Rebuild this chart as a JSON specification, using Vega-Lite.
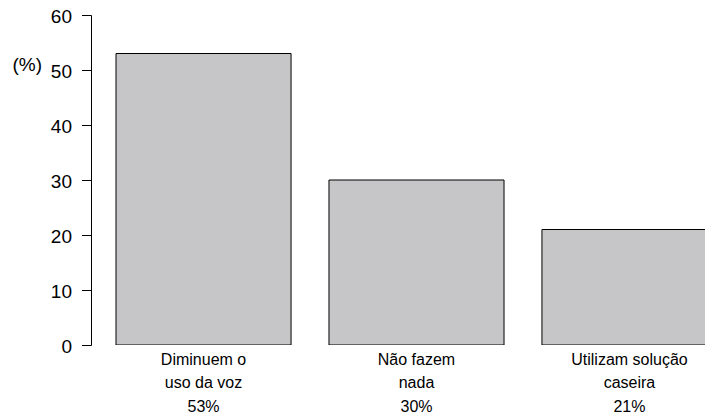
{
  "$schema": "https://vega.github.io/schema/vega-lite/v6.json",
  "autosize": "none",
  "width": 614,
  "height": 330,
  "padding": {"left": 91, "top": 15, "right": 0, "bottom": 68},
  "background": "white",
  "config": {
    "view": {"stroke": null},
    "font": "Liberation Sans",
    "axis": {"grid": false, "labelColor": "#000000", "titleColor": "#000000"}
  },
  "data": {
    "values": [
      {"categoria": "Diminuem o|uso da voz|53%", "pct": 53},
      {"categoria": "Não fazem|nada|30%", "pct": 30},
      {"categoria": "Utilizam solução|caseira|21%", "pct": 21}
    ]
  },
  "mark": {"type": "bar", "fill": "#c6c6c8", "stroke": "#000000", "strokeWidth": 1, "clip": true},
  "encoding": {
    "x": {
      "field": "categoria",
      "type": "nominal",
      "sort": null,
      "scale": {"type": "band", "range": [25, 626], "paddingInner": 0.178, "paddingOuter": 0},
      "axis": {
        "title": null,
        "domain": false,
        "ticks": false,
        "labelAngle": 0,
        "labelExpr": "split(datum.label, '|')",
        "labelFontSize": 16,
        "labelLineHeight": 23.5,
        "labelBaseline": "top",
        "labelPadding": 6,
        "labelFont": "Liberation Sans",
        "labelLimit": 0
      }
    },
    "y": {
      "field": "pct",
      "type": "quantitative",
      "scale": {"domain": [0, 60], "nice": false},
      "axis": {
        "values": [0, 10, 20, 30, 40, 50, 60],
        "title": "(%)",
        "titleAngle": 0,
        "titleAlign": "left",
        "titleBaseline": "middle",
        "titleX": -79,
        "titleY": 49,
        "titleFontSize": 19,
        "titleFontWeight": "normal",
        "titleFont": "Liberation Sans",
        "labelFontSize": 19,
        "labelFont": "Liberation Sans",
        "labelPadding": 10,
        "labelOffset": 1.5,
        "tickSize": 9.5,
        "tickColor": "#000000",
        "domainColor": "#000000",
        "labelFlush": false,
        "labelOverlap": false
      }
    }
  }
}
